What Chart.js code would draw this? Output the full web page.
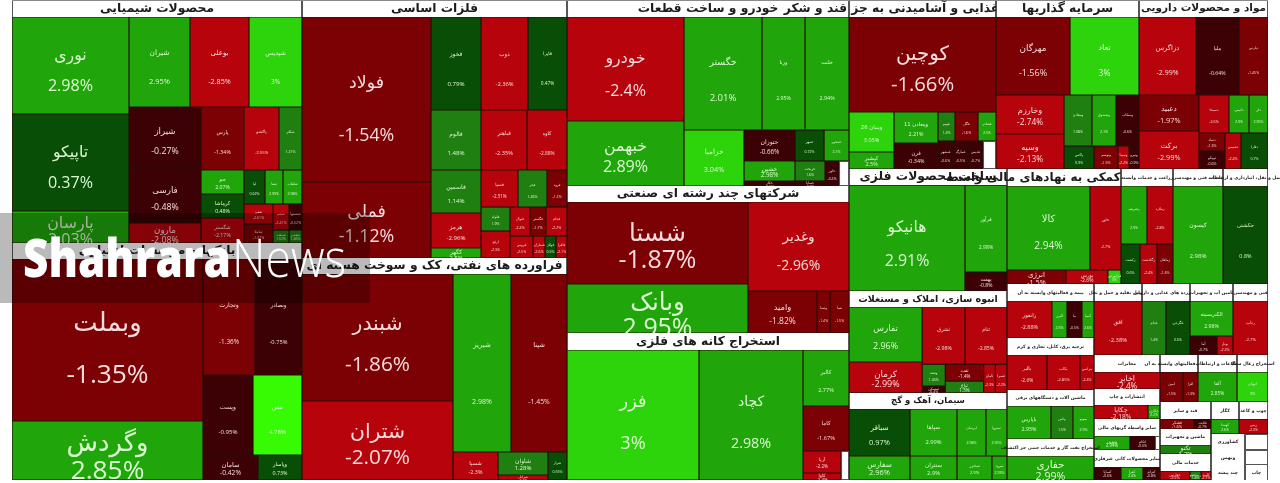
<!DOCTYPE html>
<html>
<head>
<meta charset="utf-8">
<script src="https://cdn.jsdelivr.net/npm/chart.js@4"></script>
<style>
  html, body { margin: 0; background: #fff; }
  #box { width: 1280px; height: 483px; }
  canvas { filter: blur(0.4px); }
</style>
</head>
<body>
<div id="box"><canvas id="marketMap"></canvas></div>
<script>
// one line per sector, the three lists run in the same order
const tickers = [
  'محصولات شیمیایی', 'نوری','تاپیکو','پارسان', 'شیران','بوعلی','شپدیس', 'شیراز','فارسی','مارون', 'پارس','پاکشو','شکلر', 'جم','کرماشا','شگستر', 'لپا','شفا','شلعاب', 'شفن','شاملا', 'شجم','شصفها','شنفت','شغدیر',
  'بانکها و موسسات اعتباری', 'وبملت','وگردش', 'وتجارت','وبصادر', 'وپست','تیس', 'سامان','وپاسار',
  'فلزات اساسی', 'فولاد','فملی', 'فخوز','ذوب','فایرا', 'فالوم','فاسمین','هرمز','کگهر', 'فباهنر','کاوه', 'فسپا','فجر','فرود', 'فلوله','ارفع', 'فنوال','فگستر','فجام', 'فروس','فسازان','فولاژ','فافزا',
  'فراورده های نفتی، کک و سوخت هسته ای', 'شبندر','شتران', 'شیریز','شپنا', 'شسپا','شاوان','شرانل','شراز',
  'خودرو و ساخت قطعات', 'خودرو','خبهمن', 'خگستر','ورنا','خلنت', 'خزامیا', 'حتوزان','خمهر','خمحور', 'خشین','خکار','خریخت','خساپا','خاور','',
  'شرکتهای چند رشته ای صنعتی', 'شستا','وبانک', 'وغدیر', 'وامید','وصنا','صبا',
  'استخراج کانه های فلزی', 'فزر','کچاد', 'کالبر','کاما', 'آریا','کاوا','',
  'محصولات غذایی و آشامیدنی به جز قند و شکر', 'کوچین', 'وبنیان 26','کپشیر', 'ومعادن 11','قرن', 'غپینو','غگل','غشاذر', 'غبشهر','غمارگ','غدیس','',
  'سرمایه گذاریها', 'مهرگان','تعاد', 'وخارزم','وسپه', 'ومعادن','وصندوق','وسکاب', 'پاکس','وتوسم','وسینا','ونیرو',
  'مواد و محصولات دارویی', 'دزاگرس','ملیا','دپارس', 'دعبید','برکت', 'دسبحا','دکیمی','دلر', 'دتماد','تیپیکو','دشیمی','دفارا',
  'ساخت محصولات فلزی', 'هانیکو', 'فرآور','بهفت',
  'انبوه سازی، املاک و مستغلات', 'تفارس','کرمان', 'ثشرق','ثنام', 'وتشه','ثمسکن', 'ثفت','ثباغ', 'ثامان','ثعمرا',
  'سیمان، آهک و گچ', 'سباقر','سفارس', 'سپاها','سنتران', 'ایرسان','سبزوا', 'سخزر','سرود',
  'فعالیتهای کمکی به نهادهای مالی واسط', 'کالا','خاور', 'انرژی','بورس','فرابورس',
  'زراعت و خدمات وابسته', 'زشریف','زملارد', 'زکشت','زگلدشت','زماهان',
  'خدمات فنی و مهندسی', 'کیسون',
  'حمل و نقل، انبارداری و ارتباطات', 'حکشتی',
  'بیمه و فعالیتهای وابسته به آن', 'رانفور','البرز','ما','آسیا',
  'ترجیه برق، کابل، تجاری و کرم', 'بالبر','بکاب','بترانس',
  'ماشین آلات و دستگاههای برقی', 'باپارس','بپاس','بموتو',
  'استخراج نفت گاز و خدمات جنبی جز اکتشاف', 'حفاری',
  'وسایل نقلیه و حمل و نقل', 'افق',
  'فرآورده های غذایی و دارویی', 'غدام','غگرجی',
  'تامین آب و تجهیزات', 'الکتریسیته','آما','بوتل',
  'فنی و مهندسی', 'رتاپ',
  'مخابرات', 'اخابر',
  'انتشارات و چاپ', 'چکاپا','چکارن',
  'سایر واسطه گریهای مالی', 'ونوین','اتکام','',
  'سایر محصولات کانی غیرفلزی', 'کساپا','کفرا','کترام',
  'رایانه و فعالیتهای وابسته به آن', 'امین','افرا',
  'اطلاعات و ارتباطات', 'آلفا',
  'استخراج زغال سنگ', 'اتوبان',
  'قند و سایر', 'قشکر','قثابت',
  'ماشین و تجهیزات', 'تکنو',
  'خدمات مالی', 'حفارس',
  'سایر محصولات', 'کلوند','کگاز','کهمدا',
  'چوب و کاغذ', 'ریس',
  'کشاورزی', 'وبهمن',
  'چند پیشه','','','چاپ','',''
];

const caps = [
  4930, 11349,11349,3744, 5490,5310,4770, 4464,3888,1440, 2709,2205,1449, 1032,1032,1075, 714,612,646, 580,551, 416,338,208,169,
  4640, 30942,11269, 6032,5452, 4000,3920, 1375,1100,
  4505, 21285,9804, 4650,4371,3627, 3000,2150,1750,500, 2760,2400, 1369,1073,740, 696,783, 580,464,609, 506,264,242,242,
  4240, 19177,11929, 10324,9968, 1260,1150,250,532,
  4794, 12168,7605, 8814,4859,4972, 3360, 1581,899,775, 1020,255,600,150,350,250,
  4512, 14842,8869, 8989, 2898,546,798,
  4794, 17160,13520, 2576,2070, 836,266,232,
  2499, 13965, 1800,765, 1364,1144, 493,667,522, 420,420,420,364,
  2431, 5772,5382, 2652,2380, 1428,1224,1173, 690,552,253,230,
  2193, 4446,3354,2262, 2160,2280, 1140,760,722, 468,468,576,972,
  2528, 12296, 3654,798,
  2528, 4015,2263, 2451,2394, 506,161, 646,456, 336,336,
  2528, 2867,1464, 2209,1128, 1363,987, 840,360,
  1938, 6972,2604, 826,588,182,
  884, 1508,1508, 760,680,640,
  850, 4900,
  765, 4410,
  1479, 1665,555,555,444,
  1479, 1400,1155,490,
  1392, 1452,726,693,
  1479, 2088,
  816, 2592,
  816, 1296,1296,
  731, 1505,513,304,
  595, 1890,
  1122, 1122,
  1056, 756,168,
  1122, 504,350,70,
  1122, 351,286,221,
  646, 690,450,
  663, 1170,
  527, 930,
  867, 340,170,
  816, 459,
  867, 270,99,90,
  476, 420,
  493, 435,
  544,510,510,368,345,345
];

const changes = [
  null, 2.98,0.37,2.03, 2.95,-2.85,3, -0.27,-0.48,-2.08, -1.34,-2.55,1.21, 2.07,0.48,-2.17, 0.62,2.99,2.98, -2.61,-1.32, -2.41,-0.52,1.52,1.46,
  null, -1.35,2.85, -1.36,-0.75, -0.95,4.78, -0.42,0.73,
  null, -1.54,-1.12, 0.79,-2.36,0.47, 1.48,1.14,-2.96,2.5, -2.35,-2.88, -2.51,1.46,-1.2, 1.9,-2.3, -2.4,-1.7,-2.2, -2.5,-2.6,0.5,-2.1,
  null, -1.86,-2.07, 2.98,-1.45, -2.3,1.28,-2.4,0.55,
  null, -2.4,2.89, 2.01,2.95,2.94, 3.04, -0.66,0.72,2.1, 2.98,-0.5,1.6,-0.7,-0.4,null,
  null, -1.87,2.95, -2.96, -1.82,-1.4,-1.5,
  null, 3,2.98, 2.77,-1.67, -2.2,-2.4,null,
  null, -1.66, 3.05,2.5, 2.21,-0.34, 1.4,-1.6,2.5, -0.6,-0.5,-0.7,null,
  null, -1.56,3, -2.74,-2.13, 1.08,2.1,-0.6, 0.9,-1.5,-2.2,-0.9,
  null, -2.99,-0.64,-1.45, -1.97,-2.99, -2.6,2.9,2.95, -1.3,-0.6,-2.4,0.7,
  null, 2.91, 2.98,-0.8,
  null, 2.96,-2.99, -2.98,-2.85, 1.45,-0.4, -1.4,1.5, -2.3,-2.2,
  null, 0.97,2.96, 2.99,2.9, 2.98,2.95, 2.9,2.93,
  null, 2.94,-2.7, -1.5,-2.6,3,
  null, 2.9,-2.8, 0.6,-2.4,-1.4,
  null, 2.98,
  null, 0.8,
  null, -2.88,2.5,-0.5,2.6,
  null, -2.6,-2.85,-2.4,
  null, 2.95,1.5,2.9,
  null, 2.99,
  null, -2.38,
  null, 1.4,0.6,
  null, 2.98,-0.7,-2.2,
  null, -2.7,
  null, -2.4,
  null, -2.18,2.2,
  null, 2.94,-0.5,null,
  null, -0.6,2.4,-0.8,
  null, -1.5,-1.3,
  null, 2.85,
  null, 3,
  null, -1.6,-0.7,
  null, 1.3,
  null, -2.2,1.8,-2.1,
  null, 2.6,
  null, -2.3,
  null,null,null,null,null,null
];

// captions that do not follow the sector-size rule below
const captionOverrides = {
  'فعالیتهای کمکی به نهادهای مالی واسط': 12,
  'مواد و محصولات دارویی': 10.5
};

// nesting of the map: H splits left to right, V top to bottom, a number is that many cells in a row
const H = (...kids) => ({ dir: 'h', kids });
const V = (...kids) => ({ dir: 'v', kids });

const chemShape = V(1, H(V(3), V(H(3), H(V(3), V(H(3), H(V(3), V(H(3), H(V(2), V(H(2), H(2))))))))));
const bankShape = V(1, H(V(2), V(H(2), V(H(2), H(2)))));
const metalShape = V(1, H(V(2), V(H(3), H(V(4), V(H(2), H(3), H(V(2), V(H(3), H(4))))))));
const oilShape = V(1, H(V(2), V(H(2), H(1, V(2), 1))));
const carShape = V(1, H(V(2), V(H(3), H(1, V(H(3), H(V(2), V(2), H(2)))))));
const multiShape = V(1, H(V(2), V(1, H(3))));
const miningShape = V(1, H(2, V(2, H(V(2), 1))));
const foodShape = V(2, H(V(2), V(2), V(H(3), H(4))));
const investShape = V(1, H(2), H(V(2), V(H(3), H(4))));
const pharmaShape = V(1, H(3), H(V(2), V(H(3), H(V(2), 2))));
const lowerLeftShape = V(1, H(1, V(2)), 1, H(V(2), V(H(2), H(V(2), V(2), H(2)))), 1, H(V(2), V(2), V(H(2), H(2))));
const fourSectors = H(V(1, H(2), H(3)), V(1, H(2), H(3)), V(2), V(2));
const narrowColumn = V(1, H(4), 1, H(3), 1, H(3), 2);
const fourBelow = H(V(2), V(1, H(2)), V(1, V(1, H(2))), V(2));
const stackColumn = V(2, 1, H(2), 1, H(3), 1, H(3));
const cornerShape = V(H(V(1, H(2)), V(2), V(2)), H(V(1, H(2), 2, 1, H(3)), V(H(V(2), V(2)), H(V(3), V(3)))));

const mapShape = H(
  V(chemShape, bankShape),
  V(metalShape, oilShape),
  V(carShape, multiShape, miningShape),
  V(
    H(foodShape, investShape, pharmaShape),
    H(lowerLeftShape, V(fourSectors, H(narrowColumn, V(fourBelow, H(stackColumn, cornerShape)))))
  )
);

const isCaption = k => k.kids === undefined && changes[k.index] === null && tickers[k.index] !== '';

function buildCells() {
  let next = 0;
  // swap the counts for leaf nodes, in reading order
  function expand(node) {
    const kids = [];
    node.kids.forEach(k => {
      if (typeof k === 'number') {
        for (let i = 0; i < k; i++) {
          kids.push({ index: next, weight: caps[next] });
          next++;
        }
      } else {
        kids.push(expand(k));
      }
    });
    return { dir: node.dir, kids, weight: kids.reduce((s, k) => s + k.weight, 0) };
  }
  const cells = [];
  function place(node, x0, x1, y0, y1, sectorWeight) {
    if (node.kids === undefined) {
      cells.push({
        x0, x1, y0, y1,
        name: tickers[node.index],
        change: changes[node.index],
        sectorWeight
      });
      return;
    }
    let pos = node.dir === 'h' ? x0 : y0;
    const span = node.dir === 'h' ? x1 - x0 : y1 - y0;
    node.kids.forEach((k, i) => {
      const end = pos + span * k.weight / node.weight;
      if (node.dir === 'h') {
        place(k, pos, end, y0, y1, node.weight);
      } else {
        // a caption's sector runs down to the next caption in the same column
        let sector = k.weight;
        if (isCaption(k)) {
          for (let j = i + 1; j < node.kids.length && !isCaption(node.kids[j]); j++) {
            sector += node.kids[j].weight;
          }
        }
        place(k, x0, x1, pos, end, sector);
      }
      pos = end;
    });
  }
  place(expand(mapShape), 0, 1, 0, 1, 0);
  return cells;
}

function cellColor(change) {
  if (change === null) return '#ffffff';
  if (change >= 3.5) return '#36fb02';
  if (change >= 3) return '#2dd30b';
  if (change >= 2) return '#20a60b';
  if (change >= 1) return '#1f7f10';
  if (change >= 0) return '#084e06';
  if (change > -1) return '#3c0104';
  if (change > -2) return '#7c0105';
  return '#b7030b';
}

function captionSize(c) {
  if (captionOverrides[c.name]) return captionOverrides[c.name];
  if (c.sectorWeight >= 18000) return 12.3;
  if (c.sectorWeight >= 15000) return 9.5;
  if (c.sectorWeight >= 13500) return 8.5;
  return 4.5;
}

class MarketMapController extends Chart.DatasetController {
  update(mode) {
    const meta = this._cachedMeta;
    this.updateElements(meta.data, 0, meta.data.length, mode);
  }

  updateElements(rects, start, count, mode) {
    const { xScale, yScale } = this._cachedMeta;
    const data = this.getDataset().data;
    for (let i = start; i < start + count; i++) {
      const c = data[i];
      const left = xScale.getPixelForValue(c.x0);
      const right = xScale.getPixelForValue(c.x1);
      this.updateElement(rects[i], i, {
        horizontal: false,
        x: (left + right) / 2,
        width: right - left,
        y: yScale.getPixelForValue(c.y0),
        base: yScale.getPixelForValue(c.y1),
        height: yScale.getPixelForValue(c.y1) - yScale.getPixelForValue(c.y0),
        borderSkipped: { top: false, right: false, bottom: false, left: false },
        enableBorderRadius: false,
        inflateAmount: 0,
        options: this.resolveDataElementOptions(i, mode)
      }, mode);
    }
  }

  draw() {
    super.draw();
    const { ctx } = this.chart;
    const { xScale, yScale } = this._cachedMeta;
    const data = this.getDataset().data;
    ctx.save();
    ctx.textAlign = 'center';
    ctx.textBaseline = 'middle';
    data.forEach(c => {
      if (c.change === null) return;
      const left = xScale.getPixelForValue(c.x0), right = xScale.getPixelForValue(c.x1);
      const top = yScale.getPixelForValue(c.y0), bottom = yScale.getPixelForValue(c.y1);
      const w = right - left, h = bottom - top;
      const size = Math.max(3.5, Math.min(h * 0.7, w >= 100 ? w * 0.135 : w * 0.12));
      const mid = left + w / 2;
      const nameY = top + h * 0.4;
      ctx.save();
      ctx.beginPath();
      ctx.rect(left, top, w, h);
      ctx.clip();
      ctx.fillStyle = c.change >= 0 ? '#dcf8d2' : '#f6dcdc';
      ctx.direction = 'rtl';
      ctx.font = size + 'px "DejaVu Sans"';
      ctx.fillText(c.name, mid, nameY);
      ctx.direction = 'ltr';
      ctx.font = size * 1.02 + 'px "Open Sans"';
      ctx.fillText(c.change + '%', mid, Math.max(top + h * 0.72, nameY + size * 1.05));
      ctx.restore();
    });
    // captions go last and in order: a long one runs past its box and the next box covers it
    ctx.direction = 'rtl';
    data.forEach(c => {
      if (c.change !== null || !c.name) return;
      const left = xScale.getPixelForValue(c.x0), right = xScale.getPixelForValue(c.x1);
      const top = yScale.getPixelForValue(c.y0), bottom = yScale.getPixelForValue(c.y1);
      ctx.fillStyle = '#ffffff';
      ctx.fillRect(left, top, right - left, bottom - top);
      ctx.fillStyle = '#555555';
      ctx.fillRect(left, top, 1, bottom - top);
      ctx.fillRect(right - 1, top, 1, bottom - top);
      if (c.y0 === 0) {
        ctx.fillStyle = '#8a8a8a';
        ctx.fillRect(left, top, right - left, 1);
      }
      ctx.font = 'bold ' + captionSize(c) + 'px "DejaVu Sans"';
      ctx.fillStyle = '#1c1c1c';
      ctx.fillText(c.name, (left + right) / 2, (top + bottom) / 2);
    });
    ctx.restore();
  }
}
MarketMapController.id = 'marketMap';
MarketMapController.defaults = {
  dataElementType: 'bar',
  datasetElementType: false
};
Chart.register(MarketMapController);

// dark backing so the seams between cells stay dark instead of showing the white page
const seamBacking = {
  id: 'seamBacking',
  beforeDatasetsDraw(chart) {
    const { ctx, chartArea: a } = chart;
    ctx.save();
    ctx.fillStyle = '#2b1208';
    ctx.fillRect(a.left, a.top, a.right - a.left, a.bottom - a.top);
    ctx.restore();
  }
};

// site logo strip lying over the map
const logoStrip = {
  id: 'logoStrip',
  afterDraw(chart) {
    const { ctx } = chart;
    ctx.save();
    ctx.fillStyle = 'rgba(0,0,0,0.27)';
    ctx.fillRect(0, 213, 370, 90);
    ctx.fillStyle = '#ffffff';
    ctx.textBaseline = 'alphabetic';
    ctx.textAlign = 'left';
    ctx.font = '800 53px "Open Sans"';
    const boldWidth = ctx.measureText('Shahrara').width;
    ctx.save();
    ctx.translate(23, 277);
    ctx.scale(208 / boldWidth, 1);
    ctx.fillText('Shahrara', 0, 0);
    ctx.restore();
    ctx.font = '300 53px "Open Sans"';
    const thinWidth = ctx.measureText('News').width;
    ctx.save();
    ctx.translate(232, 277);
    ctx.scale(114 / thinWidth, 1);
    ctx.fillText('News', 0, 0);
    ctx.restore();
    ctx.restore();
  }
};

new Chart(document.getElementById('marketMap').getContext('2d'), {
  type: 'marketMap',
  data: {
    datasets: [{
      data: buildCells(),
      parsing: false,
      backgroundColor: ctx => cellColor(ctx.raw.change),
      borderColor: ctx => ctx.raw.change === null ? '#555555' : 'rgba(0,0,0,0.22)',
      borderWidth: ctx => ctx.raw.change === null ? 1 : 0.6
    }]
  },
  options: {
    responsive: true,
    maintainAspectRatio: false,
    animation: false,
    layout: { padding: { left: 12, right: 12, top: 0, bottom: 3 } },
    scales: {
      x: { type: 'linear', min: 0, max: 1, display: false },
      y: { type: 'linear', min: 0, max: 1, reverse: true, display: false }
    },
    plugins: {
      legend: { display: false },
      tooltip: { enabled: false }
    },
    events: []
  },
  plugins: [seamBacking, logoStrip]
});
</script>
</body>
</html>
